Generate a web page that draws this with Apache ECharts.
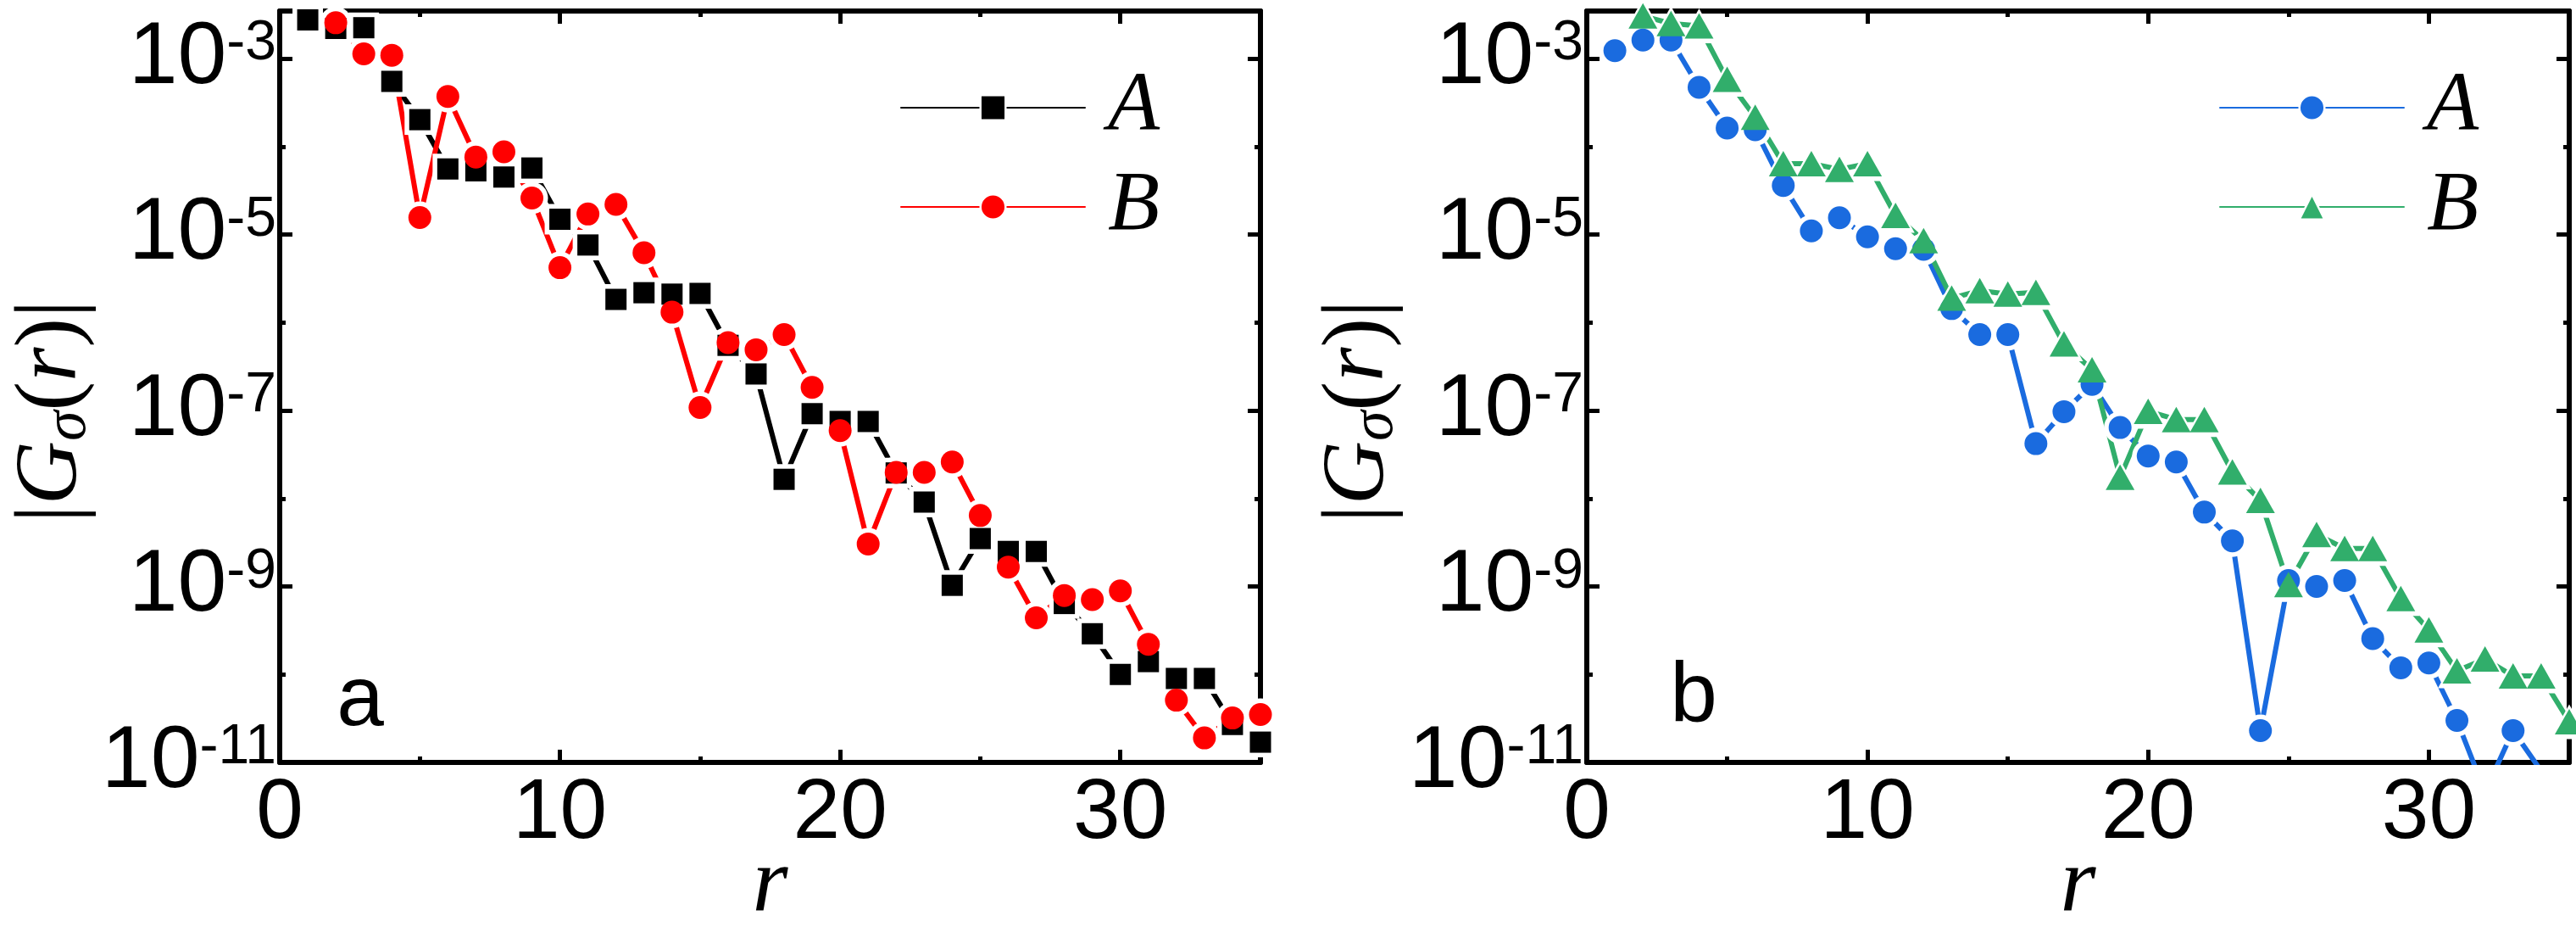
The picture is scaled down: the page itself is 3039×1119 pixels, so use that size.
<!DOCTYPE html>
<html>
<head>
<meta charset="utf-8">
<script src="https://cdn.jsdelivr.net/npm/echarts@6/dist/echarts.min.js"></script>
<style>html,body{margin:0;padding:0;background:#fff;}#c{width:3039px;height:1119px;}</style>
</head>
<body>
<div id="c"></div>
<script>
// ---------------- data ----------------
const rValues = [1,2,3,4,5,6,7,8,9,10,11,12,13,14,15,16,17,18,19,20,21,22,23,24,25,26,27,28,29,30,31,32,33,34,35];

// panel a, series A (black squares)
const panelA_A = [2.75e-3, 2.2e-3, 2.24e-3, 5.5e-4, 2.02e-4, 5.56e-5, 5.3e-5, 4.5e-5, 5.7e-5, 1.49e-5,
  7.6e-6, 1.83e-6, 2.18e-6, 2.1e-6, 2.14e-6, 5.5e-7, 2.6e-7, 1.65e-8, 9.2e-8, 7.5e-8,
  7.5e-8, 1.95e-8, 9.1e-9, 1.03e-9, 3.5e-9, 2.5e-9, 2.5e-9, 6.4e-10, 2.9e-10, 1.0e-10,
  1.4e-10, 9.0e-11, 9.0e-11, 2.7e-11, 1.7e-11];
// panel a, series B (red circles)
const panelA_B = [null, 2.55e-3, 1.13e-3, 1.09e-3, 1.56e-5, 3.7e-4, 7.6e-5, 8.7e-5, 2.6e-5, 4.2e-6,
  1.71e-5, 2.2e-5, 6.2e-6, 1.31e-6, 1.08e-7, 5.9e-7, 4.9e-7, 7.3e-7, 1.83e-7, 5.9e-8,
  3.04e-9, 1.98e-8, 1.98e-8, 2.6e-8, 6.4e-9, 1.66e-9, 4.4e-10, 7.9e-10, 7.1e-10, 8.9e-10,
  2.2e-10, 5.1e-11, 1.9e-11, 3.2e-11, 3.5e-11];
// panel b, series A (blue circles)
const panelB_A = [1.23e-3, 1.62e-3, 1.62e-3, 4.7e-4, 1.62e-4, 1.55e-4, 3.6e-5, 1.1e-5, 1.55e-5, 9.4e-6,
  6.9e-6, 6.8e-6, 1.44e-6, 7.3e-7, 7.3e-7, 4.2e-8, 9.7e-8, 1.98e-7, 6.4e-8, 3.04e-8,
  2.6e-8, 7.0e-9, 3.3e-9, 2.3e-11, 1.17e-9, 1.0e-9, 1.17e-9, 2.55e-10, 1.19e-10, 1.35e-10,
  3.0e-11, 4.6e-12, 2.3e-11, 8.0e-12, null];
// panel b, series B (green triangles)
const panelB_B = [null, 3.05e-3, 2.5e-3, 2.35e-3, 5.8e-4, 2.15e-4, 6.4e-5, 6.4e-5, 5.5e-5, 6.4e-5,
  1.65e-5, 8.5e-6, 1.89e-6, 2.3e-6, 2.1e-6, 2.2e-6, 5.7e-7, 2.9e-7, 1.74e-8, 9.8e-8,
  7.9e-8, 7.9e-8, 2.0e-8, 9.5e-9, 1.05e-9, 3.9e-9, 2.7e-9, 2.7e-9, 7.3e-10, 3.2e-10,
  1.1e-10, 1.5e-10, 9.6e-11, 9.6e-11, 2.9e-11];

const xRange = [0, 35];
const xMajorStep = 10;
const xMinorStep = 5;
const yExpRange = [-11, -2.46];   // log10 of the axis limits
const yMajorStep = 2;             // decades between labels
const yMinorStep = 1;
const legendNames = ['A', 'B'];
const panelLetters = ['a', 'b'];

// ---------------- helpers ----------------
const COLORS = { black: '#000000', red: '#ff0000', blue: '#1a6bdf', green: '#31ae6b' };
const toPairs = vals => rValues.map((r, i) => [r, vals[i] == null ? null : Math.log10(vals[i])])
                               .filter(p => p[1] !== null);

const grids = [
  { left: 330, top: 13, width: 1157, height: 886 },
  { left: 1872, top: 13, width: 1159, height: 886 }
];

const LINE = { color: '#000', width: 6 };
function xAxisDef(g, pos, major) {
  return {
    type: 'value', gridIndex: g, position: pos, min: xRange[0], max: xRange[1],
    interval: major ? xMajorStep : xMinorStep,
    splitLine: { show: false },
    axisLine: { show: major, onZero: false, lineStyle: LINE },
    axisTick: { show: true, inside: true, length: major ? 15 : 7, lineStyle: { color: '#000', width: 5 } },
    axisLabel: (major && pos === 'bottom') ? {
      show: true, margin: 11, color: '#000', fontFamily: 'Liberation Sans', fontSize: 100,
      formatter: v => (v % xMajorStep === 0 ? String(v) : '')
    } : { show: false },
    name: (major && pos === 'bottom') ? 'r' : '',
    nameLocation: 'middle', nameGap: 91, nameMoveOverlap: false,
    nameTextStyle: { color: '#000', fontFamily: 'Liberation Serif', fontStyle: 'italic', fontSize: 108, lineHeight: 110 }
  };
}
function yAxisDef(g, pos, major) {
  const showLab = major && pos === 'left';
  return {
    type: 'value', gridIndex: g, position: pos, min: yExpRange[0], max: yExpRange[1],
    interval: major ? yMajorStep : yMinorStep,
    splitLine: { show: false },
    axisLine: { show: major, onZero: false, lineStyle: LINE },
    axisTick: { show: true, inside: true, length: major ? 15 : 7, lineStyle: { color: '#000', width: 5 } },
    axisLabel: showLab ? {
      show: true, margin: 4, color: '#000',
      formatter: v => {
        const e = Math.round(v);
        if (Math.abs(v - e) > 1e-6) return '';
        return '{b|10}{s|' + e + '}';
      },
      rich: {
        b: { fontFamily: 'Liberation Sans', fontSize: 104, lineHeight: 100, color: '#000' },
        s: { fontFamily: 'Liberation Sans', fontSize: 66, lineHeight: 50, verticalAlign: 'top', color: '#000' }
      }
    } : { show: false },
    name: showLab ? '{bar||}{it|G}{sub|σ}{up|(}{it|r}{up|)}{bar||}' : '',
    nameLocation: 'middle', nameRotate: 90, nameGap: 213, nameMoveOverlap: false,
    nameTextStyle: {
      color: '#000', fontFamily: 'Liberation Serif', fontSize: 100, lineHeight: 110,
      padding: [0, 58, 0, 0],
      rich: {
        bar: { color: '#000', fontFamily: 'Liberation Serif', fontSize: 106, lineHeight: 110 },
        it: { color: '#000', fontFamily: 'Liberation Serif', fontStyle: 'italic', fontSize: 104, lineHeight: 110 },
        up: { color: '#000', fontFamily: 'Liberation Serif', fontSize: 104, lineHeight: 110 },
        sub: { color: '#000', fontFamily: 'Liberation Serif', fontStyle: 'italic', fontSize: 72, lineHeight: 50, verticalAlign: 'bottom' }
      }
    }
  };
}

const xAxes = [], yAxes = [];
[0, 1].forEach(g => {
  xAxes.push(xAxisDef(g, 'bottom', true), xAxisDef(g, 'bottom', false), xAxisDef(g, 'top', true), xAxisDef(g, 'top', false));
  yAxes.push(yAxisDef(g, 'left', true), yAxisDef(g, 'left', false), yAxisDef(g, 'right', true), yAxisDef(g, 'right', false));
});

// connecting line (with its legend icon)
function lineSeries(name, g, vals, color, symbol, size) {
  return {
    type: 'line', name, xAxisIndex: 4 * g, yAxisIndex: 4 * g, data: toPairs(vals), z: 2,
    symbol, symbolSize: size, showSymbol: true, showAllSymbol: true, clip: true,
    lineStyle: { color, width: 6, cap: 'round', join: 'round' },
    itemStyle: { color, borderWidth: 0 },
    emphasis: { disabled: true }, animation: false
  };
}
// white halo that opens a small gap in the lines around every marker
function gapSeries(name, g, vals, symbol, size) {
  const big = Array.isArray(size) ? size.map(s => s + 11) : size + 11;
  return {
    type: 'scatter', name, xAxisIndex: 4 * g, yAxisIndex: 4 * g, data: toPairs(vals), z: 3,
    symbol, symbolSize: big, clip: true,
    itemStyle: { color: '#ffffff', borderWidth: 0, opacity: 1 },
    emphasis: { disabled: true }, animation: false, silent: true
  };
}
function markerSeries(name, g, vals, color, symbol, size) {
  return {
    type: 'scatter', name, xAxisIndex: 4 * g, yAxisIndex: 4 * g, data: toPairs(vals), z: 5,
    symbol, symbolSize: size, clip: true,
    itemStyle: { color, borderWidth: 0, opacity: 1 },
    emphasis: { disabled: true }, animation: false, silent: true
  };
}

const series = [
  lineSeries('A', 0, panelA_A, COLORS.black, 'rect', 25),
  lineSeries('B', 0, panelA_B, COLORS.red, 'circle', 27),
  gapSeries('A-gap-a', 0, panelA_A, 'rect', 25),
  gapSeries('B-gap-a', 0, panelA_B, 'circle', 27),
  markerSeries('A-marks-a', 0, panelA_A, COLORS.black, 'rect', 25),
  markerSeries('B-marks-a', 0, panelA_B, COLORS.red, 'circle', 27),
  lineSeries('bA', 1, panelB_A, COLORS.blue, 'circle', 27),
  lineSeries('bB', 1, panelB_B, COLORS.green, 'triangle', [34, 30]),
  gapSeries('A-gap-b', 1, panelB_A, 'circle', 27),
  gapSeries('B-gap-b', 1, panelB_B, 'triangle', [34, 30]),
  markerSeries('A-marks-b', 1, panelB_A, COLORS.blue, 'circle', 27),
  markerSeries('B-marks-b', 1, panelB_B, COLORS.green, 'triangle', [34, 30])
];

function legendDef(names, left, fmt) {
  return {
    data: names.map(n => ({ name: n })),
    orient: 'vertical', left, top: 77, padding: 0,
    itemWidth: 217, itemHeight: 37, itemGap: 17, selectedMode: false,
    itemStyle: { borderWidth: 2.5, borderColor: '#fff' },
    formatter: fmt,
    textStyle: { color: '#000', fontFamily: 'Liberation Serif', fontStyle: 'italic', fontSize: 100, padding: [0, 0, 0, 22] }
  };
}

const option = {
  backgroundColor: '#ffffff',
  animation: false,
  grid: grids,
  xAxis: xAxes,
  yAxis: yAxes,
  legend: [
    legendDef(legendNames, 1062, n => n),
    legendDef(legendNames.map(n => 'b' + n), 2618, n => n.slice(1))
  ],
  graphic: [
    { type: 'text', x: 425, y: 827, style: { text: panelLetters[0], fill: '#000', font: '100px "Liberation Sans"', align: 'center', verticalAlign: 'middle' } },
    { type: 'text', x: 1998, y: 823, style: { text: panelLetters[1], fill: '#000', font: '100px "Liberation Sans"', align: 'center', verticalAlign: 'middle' } }
  ],
  series
};

const chart = echarts.init(document.getElementById('c'), null, { renderer: 'canvas', width: 3039, height: 1119 });
chart.setOption(option);
</script>
</body>
</html>
